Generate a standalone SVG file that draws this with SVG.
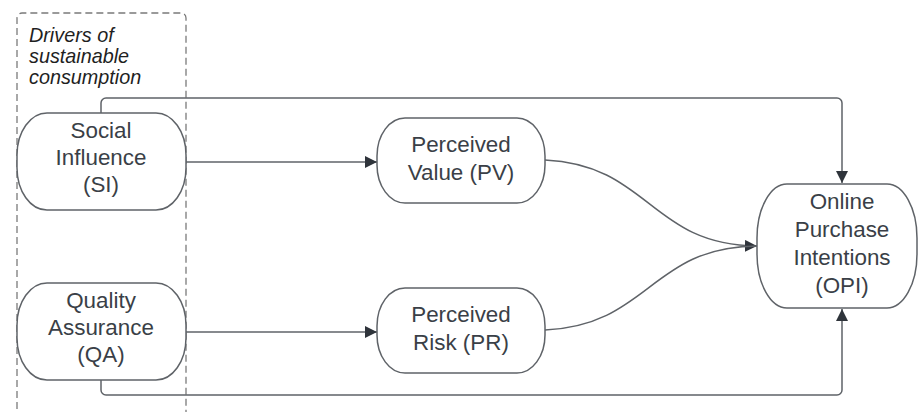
<svg xmlns="http://www.w3.org/2000/svg" width="919" height="412" viewBox="0 0 919 412">
<defs>
<style>
.node{fill:#fff;stroke:#5f6368;stroke-width:1.5}
.t{font-family:"Liberation Sans",Arial,sans-serif;font-size:22.4px;fill:#3a3f47;text-anchor:middle}
.ti{font-family:"Liberation Sans",Arial,sans-serif;font-size:19.8px;font-style:italic;fill:#1f1f1f}
.c{fill:none;stroke:#5f6368;stroke-width:1.5}
</style>
<marker id="ah" viewBox="0 0 10 10" refX="10" refY="5" markerWidth="12" markerHeight="12" markerUnits="userSpaceOnUse" orient="auto">
<path d="M0,0 L10,5 L0,10 z" fill="#2f343b"/>
</marker>
</defs>
<rect width="919" height="412" fill="#fff"/>
<g id="container">
<path d="M17,420 V18 a5,5 0 0 1 5,-5 H181 a5,5 0 0 1 5,5 V420" fill="none" stroke="#7a7a7a" stroke-width="1.3" stroke-dasharray="7,4"/>
<text class="ti" x="29" y="42">Drivers of</text>
<text class="ti" x="29" y="63">sustainable</text>
<text class="ti" x="29" y="84">consumption</text>
</g>
<g id="connectors">
<path class="c" d="M101,113 V103 a5,5 0 0 1 5,-5 H837 a5,5 0 0 1 5,5 V183" marker-end="url(#ah)"/>
<path class="c" d="M186,162 H377" marker-end="url(#ah)"/>
<path class="c" d="M186,332 H377" marker-end="url(#ah)"/>
<path class="c" d="M101,380 V390 a5,5 0 0 0 5,5 H837 a5,5 0 0 0 5,-5 V309" marker-end="url(#ah)"/>
<path class="c" d="M545,160 C650,165 650,245 757,246" marker-end="url(#ah)"/>
<path class="c" d="M545,330 C650,325 650,247 757,246"/>
</g>
<g id="SI">
<rect class="node" x="17" y="113" width="169" height="97" rx="30" ry="42"/>
<text class="t" x="101" y="138">Social</text>
<text class="t" x="101" y="165">Influence</text>
<text class="t" x="101" y="192">(SI)</text>
</g>
<g id="QA">
<rect class="node" x="17" y="283" width="169" height="97" rx="30" ry="42"/>
<text class="t" x="101" y="308">Quality</text>
<text class="t" x="101" y="335">Assurance</text>
<text class="t" x="101" y="362">(QA)</text>
</g>
<g id="PV">
<rect class="node" x="377" y="118" width="168" height="85" rx="28" ry="38"/>
<text class="t" x="461" y="152">Perceived</text>
<text class="t" x="461" y="180">Value (PV)</text>
</g>
<g id="PR">
<rect class="node" x="377" y="288" width="168" height="85" rx="28" ry="38"/>
<text class="t" x="461" y="322">Perceived</text>
<text class="t" x="461" y="350">Risk (PR)</text>
</g>
<g id="OPI">
<rect class="node" x="757" y="184" width="160" height="124" rx="30" ry="54"/>
<text class="t" x="842" y="209">Online</text>
<text class="t" x="842" y="237">Purchase</text>
<text class="t" x="842" y="265">Intentions</text>
<text class="t" x="842" y="293">(OPI)</text>
</g>
</svg>
